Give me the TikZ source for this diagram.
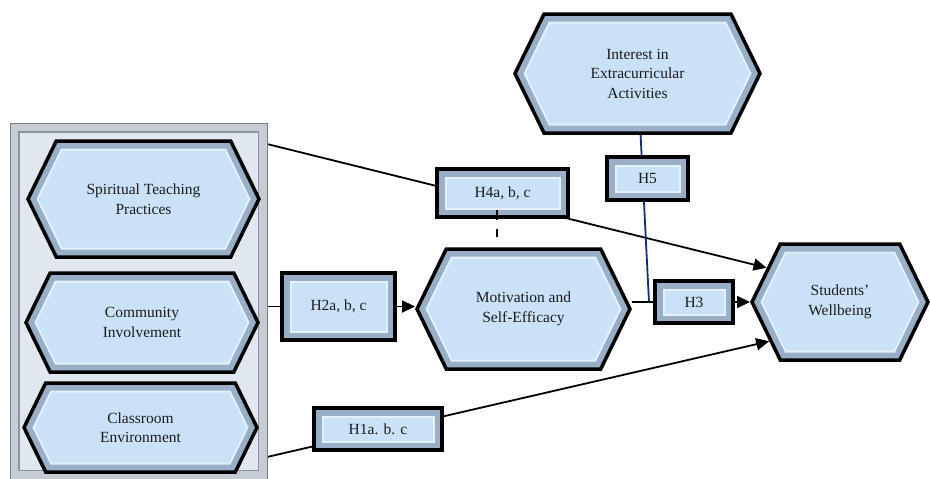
\documentclass[tikz,border=0pt]{standalone}
\usepackage{fontspec}
\setmainfont{Liberation Serif}
\usepackage{tikz}
\usetikzlibrary{
  shapes.symbols, arrows.meta, calc, backgrounds
}
\definecolor{hexfill}{RGB}{201,226,248}
\definecolor{hexbevel}{RGB}{152,175,199}
\definecolor{hexshine}{RGB}{228,241,252}
\definecolor{panelfill}{RGB}{225,231,239}
\definecolor{panelbevel}{RGB}{198,204,212}
\definecolor{paneldark}{RGB}{140,148,158}
\definecolor{paneledge}{RGB}{120,128,138}
\definecolor{linknavy}{RGB}{22,46,112}
\definecolor{textdark}{RGB}{28,28,28}
\tikzset{
  hexa/.style={
    signal, signal to=west and east, signal pointer angle=128,
    draw=black, line width=3.5pt, fill=hexfill, inner sep=0pt,
    align=center, text=textdark, font=\fontsize{15.5}{19.5}\selectfont,
    path picture={
      \draw[hexshine, line width=19pt,
            postaction={draw=hexbevel, line width=15pt}] let
        \p1=(path picture bounding box.north west),
        \p2=(path picture bounding box.south east),
        \n1={0.2439*(\y1-\y2)} in
        (\x1,\y1/2+\y2/2) -- (\x1+\n1,\y1) -- (\x2-\n1,\y1)
        -- (\x2,\y1/2+\y2/2) -- (\x2-\n1,\y2) -- (\x1+\n1,\y2) -- cycle;
    }
  },
  hbox/.style={
    rectangle, draw=black, line width=3.5pt, fill=hexfill, inner sep=0pt,
    text=textdark, font=\fontsize{15.5}{19.5}\selectfont,
    path picture={
      \draw[hexshine, line width=19pt,
            postaction={draw=hexbevel, line width=15pt}]
        (path picture bounding box.north west)
        rectangle (path picture bounding box.south east);
    }
  },
  panel/.style={
    rectangle, draw=paneledge, line width=1pt, fill=panelfill,
    path picture={
      \draw[paneldark, line width=19pt,
            postaction={draw=panelbevel, line width=16pt}]
        (path picture bounding box.north west)
        rectangle (path picture bounding box.south east);
    }
  },
  link/.style={line width=1.8pt, color=black},
  linkarrow/.style={link, -{Triangle[length=13pt, width=12pt]}},
  navylink/.style={line width=1.8pt, color=linknavy},
  dashlink/.style={line width=2.5pt, dash pattern=on 10pt off 9pt}
}
\begin{document}
\begin{tikzpicture}[x=1pt, y=-1pt]
  \useasboundingbox (0,0) rectangle (930,479);

  % Predictors panel
  \node[panel, minimum width=257pt, minimum height=356pt] (panel) at (138.5,301) {};
  \node[hexa, minimum width=231pt, minimum height=116pt] (spirit) at (143.5,199)
    {Spiritual Teaching\\Practices};
  \node[hexa, minimum width=232pt, minimum height=99pt] (commun) at (142,322.5)
    {Community\\Involvement};
  \node[hexa, minimum width=233pt, minimum height=89pt] (class) at (140.5,427.5)
    {Classroom\\Environment};

  % Mediator, moderator and outcome
  \node[hexa, minimum width=245pt, minimum height=119pt] (interest) at (637.5,73.5)
    {Interest in\\Extracurricular\\Activities};
  \node[hexa, minimum width=213pt, minimum height=120pt] (motiv) at (523.5,309)
    {Motivation and\\Self-Efficacy};
  \node[hexa, minimum width=176pt, minimum height=116pt] (well) at (840,302)
    {Students'\\Wellbeing};

  % Hypothesis labels
  \node[hbox, minimum width=113pt, minimum height=67pt] (h2) at (338.5,306.5) {H2a, b, c};
  \node[hbox, minimum width=131pt, minimum height=48pt] (h4) at (502.5,193) {H4a, b, c};
  \node[hbox, minimum width=81pt, minimum height=43pt] (h5) at (647.5,178.5) {H5};
  \node[hbox, minimum width=78pt, minimum height=42pt] (h3) at (694,302) {H3};
  \node[hbox, minimum width=128pt, minimum height=42pt] (h1) at (378,429) {H1a. b. c};

  \coordinate (s4) at (267,144);
  \coordinate (s1) at (267,457);
  \coordinate (j5) at (649,302);
  \coordinate (d4) at (497,237);

  % Paths
  \begin{scope}[on background layer]
    \draw[linkarrow] (s4) -- (well.155);
    \draw[linkarrow] (s1) -- (well.209);
    \draw[navylink] (interest) -- (j5);
    \draw[link] (h2.west -| panel.east) -- (h2.west);
    \draw[linkarrow] (h2.east) -- (h2.east -| motiv.west);
    \draw[link] (h3.west -| motiv.east) -- (h3.west);
    \draw[linkarrow] (h3.east) -- (well.west);
  \end{scope}
  \draw[dashlink] (d4 |- h4.south) ++(0,-9) -- (d4);
\end{tikzpicture}
\end{document}
